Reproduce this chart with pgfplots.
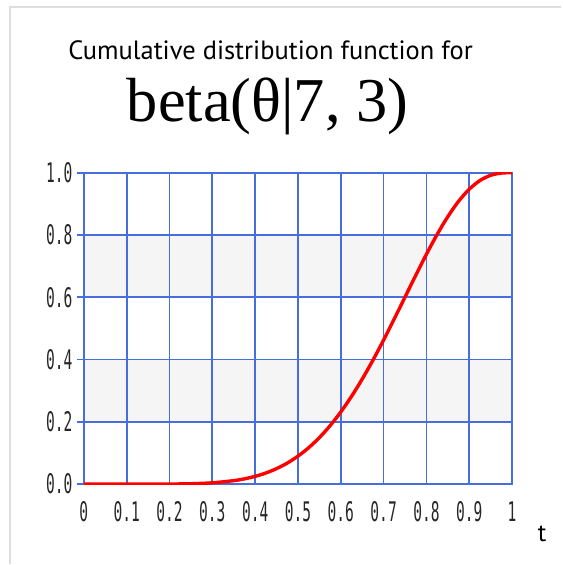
\documentclass[border=0pt]{standalone}
\usepackage{pgfplots}
\pgfplotsset{compat=1.18}
\usepackage{fontspec}
\setmainfont{PT Sans}
\newfontfamily\titleserif{Liberation Serif}
\newfontfamily\tickfont[FakeStretch=0.54]{DejaVu Sans Mono}
\definecolor{gridblue}{RGB}{70,110,222}
\definecolor{bandgray}{RGB}{245,245,245}
\definecolor{framegray}{RGB}{222,222,222}

% CDF of beta(7,3), I_t(7,3)
\pgfplotstableread{
t      F
0      0
0.05   0.0000000
0.1    0.0000030
0.15   0.0000464
0.2    0.0003139
0.25   0.0013428
0.3    0.0042909
0.35   0.0111821
0.375  0.0170100
0.4    0.0250347
0.425  0.0357710
0.45   0.0497730
0.475  0.0676080
0.5    0.0898438
0.525  0.1169900
0.55   0.1495030
0.575  0.1877080
0.6    0.2317870
0.625  0.2817270
0.65   0.3372730
0.675  0.3979090
0.7    0.4628310
0.725  0.5309000
0.75   0.6006770
0.775  0.6704380
0.8    0.7381980
0.825  0.8018270
0.85   0.8591470
0.875  0.9081080
0.9    0.9470280
0.925  0.9748710
0.95   0.9916380
0.975  0.9988280
1      1
}\betacdf

\begin{document}
\begin{tikzpicture}
\begin{axis}[
  set layers=standard,
  scale only axis,
  width=429pt, height=312pt,
  xmin=0, xmax=1, ymin=0, ymax=1,
  xtick={0,0.1,0.2,0.3,0.4,0.5,0.6,0.7,0.8,0.9,1},
  xticklabels={0,0.1,0.2,0.3,0.4,0.5,0.6,0.7,0.8,0.9,1},
  ytick={0,0.2,0.4,0.6,0.8,1},
  yticklabels={0.0,0.2,0.4,0.6,0.8,1.0},
  grid=major,
  grid style={gridblue, line width=1.7pt},
  axis line style={gridblue, line width=1.7pt},
  tick align=outside,
  tick pos=left,
  major tick length=7pt,
  xtick style={draw=none},
  ytick style={gridblue, line width=1.7pt},
  ticklabel style={font=\tickfont\fontsize{27}{27}\selectfont, text=black!85},
  xticklabel style={anchor=base, yshift=-30pt},
  yticklabel style={anchor=east, xshift=-1pt},
  xlabel={t},
  xlabel style={at={(axis description cs:1.07,-0.16)}, anchor=center, font=\fontsize{25}{25}\selectfont},
]
% alternating shaded bands behind the grid
\begin{pgfonlayer}{axis background}
\fill[bandgray] (axis cs:0,0.2) rectangle (axis cs:1,0.4);
\fill[bandgray] (axis cs:0,0.6) rectangle (axis cs:1,0.8);
\end{pgfonlayer}
\addplot[red, line width=3.4pt, smooth] table[x=t, y=F] {\betacdf};
\end{axis}
% page frame
\draw[framegray, line width=2pt] (-74pt,-80pt) -- (-74pt,478pt) -- (478pt,478pt);
% title
\node[anchor=base] at (187pt,425pt) {\fontsize{26.5}{26.5}\selectfont Cumulative distribution function for};
\node[anchor=base] at (184pt,363pt) {\titleserif\fontsize{62.5}{62.5}\selectfont beta(θ|7, 3)};
\path (-84pt,-80pt) rectangle (478pt,485pt);
\end{tikzpicture}
\end{document}
